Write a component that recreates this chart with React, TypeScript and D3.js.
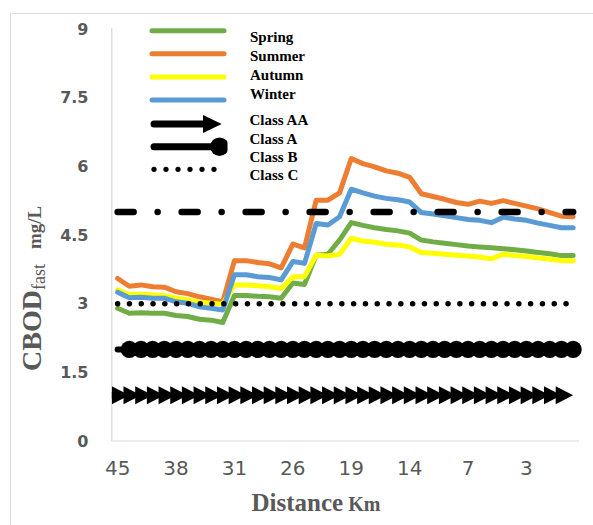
import React from "react";
import * as d3 from "d3";

// Seasonal CBOD(fast) profiles along the river, 40 stations (upstream -> downstream)
const spring = [2.90, 2.79, 2.80, 2.79, 2.79, 2.74, 2.72, 2.66, 2.64, 2.59, 3.18, 3.18, 3.16, 3.15, 3.12, 3.45, 3.42, 4.06, 4.08, 4.39, 4.77, 4.71, 4.66, 4.62, 4.59, 4.54, 4.39, 4.35, 4.32, 4.29, 4.26, 4.24, 4.22, 4.20, 4.18, 4.15, 4.12, 4.09, 4.05, 4.05];
const summer = [3.55, 3.38, 3.41, 3.37, 3.36, 3.26, 3.22, 3.15, 3.10, 3.04, 3.94, 3.94, 3.90, 3.87, 3.78, 4.30, 4.22, 5.26, 5.26, 5.42, 6.17, 6.06, 5.99, 5.90, 5.85, 5.76, 5.40, 5.34, 5.28, 5.21, 5.17, 5.24, 5.19, 5.25, 5.19, 5.13, 5.07, 4.99, 4.91, 4.90];
const autumn = [3.30, 3.20, 3.21, 3.19, 3.18, 3.12, 3.08, 3.03, 3.01, 2.99, 3.41, 3.41, 3.39, 3.37, 3.33, 3.59, 3.59, 4.06, 4.04, 4.08, 4.43, 4.37, 4.34, 4.30, 4.28, 4.24, 4.12, 4.10, 4.08, 4.06, 4.04, 4.02, 3.98, 4.08, 4.05, 4.03, 4.00, 3.97, 3.94, 3.94];
const winter = [3.25, 3.13, 3.14, 3.12, 3.12, 3.04, 3.01, 2.93, 2.90, 2.86, 3.63, 3.63, 3.59, 3.57, 3.52, 3.92, 3.88, 4.75, 4.72, 4.90, 5.50, 5.42, 5.35, 5.30, 5.27, 5.22, 4.99, 4.96, 4.92, 4.88, 4.84, 4.82, 4.77, 4.89, 4.85, 4.82, 4.76, 4.71, 4.66, 4.66];

const seasonNames = ["Spring", "Summer", "Autumn", "Winter"];
const seasonColors = ["#70AD47", "#ED7D31", "#FFFF00", "#5B9BD5"];
const seasonSeries = [spring, summer, autumn, winter];

// Water quality class limits (mg/L)
const classNames = ["Class AA", "Class A", "Class B", "Class C"];
const classValues = [1, 2, 5, 3];

// Distance labels shown every fifth station
const distanceTicks = ["45", "38", "31", "26", "19", "14", "7", "3"];
const tickStep = 5;
const yTicks = [0, 1.5, 3, 4.5, 6, 7.5, 9];

const W = 593;
const H = 525;
const plot = { left: 111.8, right: 579, top: 29, bottom: 441 };
const grey = "#595959";
const axisGrey = "#D9D9D9";

export default function App() {
  const idx = d3.range(spring.length);
  const x = d3.scaleBand<number>().domain(idx).range([plot.left, plot.right]).padding(0);
  const cx = (i: number) => (x(i) as number) + x.bandwidth() / 2;
  const y = d3.scaleLinear().domain([0, 9]).range([plot.bottom, plot.top]);

  const line = d3
    .line<number>()
    .x((_, i) => cx(i))
    .y((v) => y(v));

  const flat = (v: number) => idx.map(() => v);
  const [vAA, vA, vB, vC] = classValues;

  const legendX = 152;
  const legendTextX = 249.5;
  const seasonLegendY = [30.7, 53.7, 77, 100];
  const seasonTextY = [41.5, 60.5, 79.5, 98.5];
  const classTextY = [125, 143.5, 162, 180];

  return (
    <svg
      width={W}
      height={H}
      style={{ position: "absolute", left: 0, top: 0, background: "#fff" }}
    >
      <defs>
        <clipPath id="plotClip">
          <rect x={plot.left} y={0} width={W - plot.left} height={H} />
        </clipPath>
        <clipPath id="legendDotClip">
          <rect x={0} y={0} width={227.5} height={H} />
        </clipPath>
      </defs>
      <rect x={0} y={0} width={W} height={H} fill="#fff" />
      {/* chart frame */}
      <path d={`M10.5,${H} V13.5 H${W}`} fill="none" stroke={axisGrey} strokeWidth={1} />

      {/* axes */}
      <line x1={plot.left} x2={plot.left} y1={28} y2={plot.bottom} stroke={axisGrey} strokeWidth={1.2} />
      <line x1={plot.left} x2={plot.right} y1={plot.bottom} y2={plot.bottom} stroke={axisGrey} strokeWidth={1.2} />

      {yTicks.map((t) => (
        <text
          key={t}
          x={88.5}
          y={y(t)}
          dy="0.36em"
          textAnchor="end"
          fontFamily="DejaVu Sans"
          fontWeight="bold"
          fontSize={16}
          fill={grey}
        >
          {t}
        </text>
      ))}
      {distanceTicks.map((lab, k) => (
        <text
          key={lab}
          x={cx(k * tickStep)}
          y={475}
          textAnchor="middle"
          fontFamily="DejaVu Sans"
          fontSize={20}
          fill={grey}
        >
          {lab}
        </text>
      ))}

      {/* axis titles */}
      <text
        x={316}
        y={510.5}
        textAnchor="middle"
        fontFamily="Liberation Serif"
        fontWeight="bold"
        fill={grey}
      >
        <tspan fontSize={25}>Distance</tspan>
        <tspan fontSize={20}> Km</tspan>
      </text>
      <text
        transform="translate(41,371) rotate(-90)"
        fontFamily="Liberation Serif"
        fontWeight="bold"
        fill={grey}
      >
        <tspan fontSize={28}>CBOD</tspan>
        <tspan fontSize={18} fontWeight="normal" dy={4}>fast</tspan>
        <tspan fontSize={19} dy={-4} dx={15}>mg/L</tspan>
      </text>

      {/* seasonal profiles */}
      {seasonSeries.map((s, k) => (
        <path
          key={seasonNames[k]}
          d={line(s) as string}
          fill="none"
          stroke={seasonColors[k]}
          strokeWidth={5}
          strokeLinejoin="round"
          strokeLinecap="round"
        />
      ))}

      {/* Class AA: right-pointing triangle markers */}
      <g clipPath="url(#plotClip)">
        {idx.map((i) => {
          const px = cx(i);
          const py = y(vAA);
          return <path key={i} d={`M${px - 17.5},${py - 9} L${px},${py} L${px - 17.5},${py + 9} Z`} fill="#000" />;
        })}
      </g>

      {/* Class A: thick line with circle markers */}
      <path d={line(flat(vA)) as string} fill="none" stroke="#000" strokeWidth={6} strokeLinecap="round" />
      {idx.slice(1).map((i) => (
        <circle key={i} cx={cx(i)} cy={y(vA)} r={8.6} fill="#000" />
      ))}

      {/* Class B: long dash-dot */}
      <path
        d={line(flat(vB)) as string}
        fill="none"
        stroke="#000"
        strokeWidth={6.5}
        strokeLinecap="round"
        strokeDasharray="16 24 0 24"
      />

      {/* Class C: round dots */}
      <path
        d={line(flat(vC)) as string}
        fill="none"
        stroke="#000"
        strokeWidth={5.5}
        strokeLinecap="round"
        strokeDasharray="0 11.8"
      />

      {/* legend */}
      {seasonNames.map((n, k) => (
        <g key={n}>
          <line
            x1={legendX}
            x2={224}
            y1={seasonLegendY[k]}
            y2={seasonLegendY[k]}
            stroke={seasonColors[k]}
            strokeWidth={5}
            strokeLinecap="round"
          />
          <text x={legendTextX + 0.5} y={seasonTextY[k]} fontFamily="Liberation Serif" fontWeight="bold" fontSize={15} fill="#000">
            {n}
          </text>
        </g>
      ))}
      <line x1={legendX + 2} x2={206} y1={124} y2={124} stroke="#000" strokeWidth={7} strokeLinecap="round" />
      <path d="M203,115 L221.7,124 L203,133 Z" fill="#000" />
      <line x1={legendX + 2} x2={218} y1={146.7} y2={146.7} stroke="#000" strokeWidth={7} strokeLinecap="round" />
      <circle cx={219.5} cy={146.7} r={9.3} fill="#000" clipPath="url(#legendDotClip)" />
      {d3.range(6).map((k) => (
        <circle key={k} cx={154 + k * 12} cy={169.3} r={2.6} fill="#000" />
      ))}
      {classNames.map((n, k) => (
        <text key={n} x={legendTextX} y={classTextY[k]} fontFamily="Liberation Serif" fontWeight="bold" fontSize={15} fill="#000">
          {n}
        </text>
      ))}
    </svg>
  );
}
